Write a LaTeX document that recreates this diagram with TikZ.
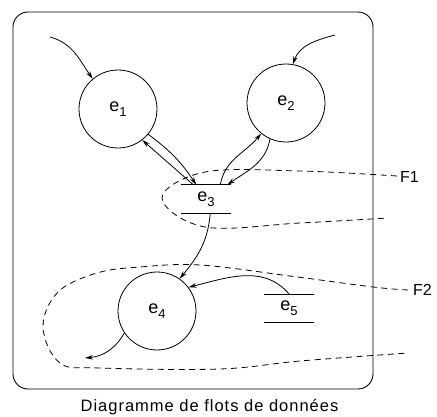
\documentclass[tikz,border=0pt]{standalone}
\usepackage{fontspec}
\setmainfont{Liberation Sans}
\usetikzlibrary{arrows.meta,calc}
\newcommand{\elbl}[1]{e\raisebox{-0.55ex}{\fontsize{13}{13}\selectfont #1}}
\begin{document}
\begin{tikzpicture}[x=1pt,y=1pt,
  line/.style={line width=0.8pt},
  arr/.style={line width=0.8pt,-{Stealth[length=8pt,width=4.5pt]}},
  flow/.style={line width=0.8pt,dash pattern=on 6pt off 4.5pt},
  proc/.style={circle,draw,line width=0.8pt,minimum size=78pt,inner sep=0pt,font=\fontsize{18}{18}\selectfont},
  store/.style={rectangle,inner sep=0pt,minimum width=49pt,minimum height=28pt,font=\fontsize{18}{18}\selectfont},
  flbl/.style={anchor=west,inner sep=0pt,font=\fontsize{16}{16}\selectfont}]
\useasboundingbox (0,0) rectangle (437,416);
\draw[line width=0.9pt,rounded corners=15pt] (13,27) rectangle (373,404);
\node[inner sep=0pt,font=\fontsize{16.5}{16.5}\selectfont\addfontfeature{LetterSpace=6}] (cap) at (209.5,9) {Diagramme de flots de données};

\node[proc] (e1) at (118,307) {\elbl{1}};
\node[proc] (e2) at (286,313) {\elbl{2}};
\node[proc] (e4) at (157,105) {\elbl{4}};
\node[store] (e3) at (206,217) {\raisebox{-1pt}{\elbl{3}}};
\node[store] (e5) at (289,107.5) {\raisebox{-1pt}{\elbl{5}}};
\draw[line] (e3.north west) -- (e3.north east);
\draw[line] (e3.south west) -- (e3.south east);
\draw[line] (e5.north west) -- (e5.north east);
\draw[line] (e5.south west) -- (e5.south east);

\coordinate (s1) at (50,379);
\coordinate (s2) at (335,381);
\coordinate (o4) at (85,58);
\coordinate (a31) at ($(e3.north west)+(12,0)$);
\coordinate (a13) at ($(e3.north west)+(15,0)$);
\coordinate (a32) at ($(e3.north west)+(39,0)$);
\coordinate (a23) at ($(e3.north west)+(46,0)$);
\coordinate (a34) at ($(e3.south west)+(29,0)$);
\coordinate (a54) at ($(e5.north west)+(25,0)$);

\draw[arr] (s1) to[out=-15,in=125] (e1.130);
\draw[arr] (s2) to[out=195,in=70] (e2.80);
\draw[arr] (a31) -- (e1.-52);
\draw[arr] (e1.-40) to[bend left=10] (a13);
\draw[arr] (a32) to[out=80,in=-130] (e2.-129);
\draw[arr] (e2.-114) to[out=-100,in=35] (a23);
\draw[arr] (a34) to[out=-95,in=50] (e4.55);
\draw[arr] (a54) to[out=130,in=14] (e4.37);
\draw[arr] (e4.-146) to[out=-120,in=5] (o4);

\draw[flow] plot[smooth,tension=0.6] coordinates {(397,240) (300,245) (205,244) (162,218) (205,189) (300,193) (388,198)};
\node[flbl] (F1) at (400,239) {F1};
\draw[flow] plot[smooth,tension=0.6] coordinates {(408,126) (373,129) (290,140) (200,151) (140,149) (97,143) (58,124) (43,89) (60,53) (100,48) (220,47) (300,55) (408,63)};
\node[flbl] (F2) at (413,126) {F2};
\end{tikzpicture}
\end{document}
